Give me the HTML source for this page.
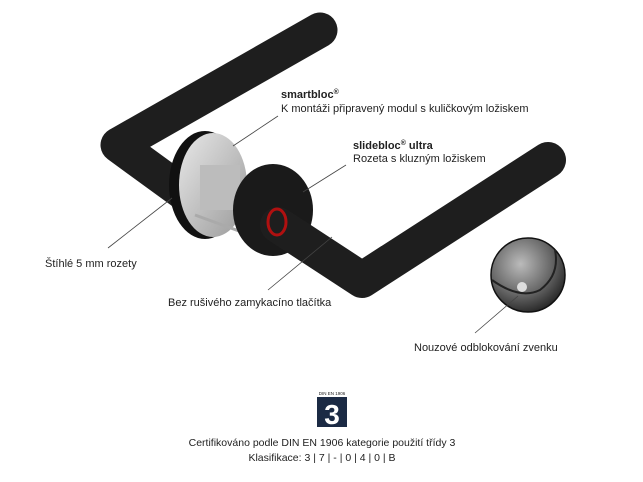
<!DOCTYPE html>
<html><head><meta charset="utf-8"><style>
html,body{margin:0;padding:0;background:#fff}
svg{display:block}
text{font-family:"Liberation Sans","DejaVu Sans",sans-serif;fill:#222}
</style></head><body>
<svg width="643" height="482" viewBox="0 0 643 482" xmlns="http://www.w3.org/2000/svg">
<defs>
<radialGradient id="ins" cx="0.4" cy="0.35" r="0.7"><stop offset="0" stop-color="#bbb"/><stop offset="0.6" stop-color="#666"/><stop offset="1" stop-color="#222"/></radialGradient>
<linearGradient id="sil" x1="0" y1="0" x2="1" y2="1"><stop offset="0" stop-color="#e8e8e8"/><stop offset="1" stop-color="#9a9a9a"/></linearGradient>
</defs>
<polyline points="320,30 118,145 188,196" fill="none" stroke="#1e1e1e" stroke-width="35" stroke-linecap="round" stroke-linejoin="round"/>
<ellipse cx="205" cy="185" rx="36" ry="54" fill="#111"/>
<ellipse cx="213" cy="185" rx="34" ry="52" fill="url(#sil)"/>
<rect x="200" y="165" width="40" height="45" fill="#bcbcbc"/>
<line x1="195" y1="215" x2="250" y2="235" stroke="#aaa" stroke-width="3"/>
<ellipse cx="273" cy="210" rx="40" ry="46" fill="#1a1a1a"/>
<polyline points="278,225 362,280 548,160" fill="none" stroke="#1e1e1e" stroke-width="36" stroke-linecap="round" stroke-linejoin="round"/>
<ellipse cx="277" cy="222" rx="9" ry="13" fill="none" stroke="#b01010" stroke-width="3"/>
<circle cx="528" cy="275" r="37" fill="url(#ins)" stroke="#111" stroke-width="1.5"/>
<path d="M492,280 Q520,300 540,290 Q560,275 555,250" fill="none" stroke="#222" stroke-width="2"/>
<circle cx="522" cy="287" r="5" fill="#ddd"/>
<g stroke="#444" stroke-width="0.8">
<line x1="278" y1="116" x2="233" y2="146"/>
<line x1="346" y1="165" x2="303" y2="192"/>
<line x1="108" y1="248" x2="172" y2="198"/>
<line x1="268" y1="290" x2="332" y2="237"/>
<line x1="475" y1="333" x2="518" y2="296"/>
</g>
<text x="281" y="98" font-size="11" font-weight="bold">smartbloc<tspan font-size="7" dy="-4">®</tspan></text>
<text x="281" y="112" font-size="11">K montáži připravený modul s kuličkovým ložiskem</text>
<text x="353" y="149" font-size="11" font-weight="bold">slidebloc<tspan font-size="7" dy="-4">®</tspan><tspan dy="4"> ultra</tspan></text>
<text x="353" y="162" font-size="11">Rozeta s kluzným ložiskem</text>
<text x="45" y="267" font-size="11">Štíhlé 5 mm rozety</text>
<text x="168" y="306" font-size="11">Bez rušivého zamykacíno tlačítka</text>
<text x="414" y="351" font-size="11">Nouzové odblokování zvenku</text>
<text x="332" y="395" font-size="4.5" text-anchor="middle">DIN EN 1906</text>
<rect x="317" y="397" width="30" height="30" fill="#1b2a44"/>
<text x="332" y="424" font-size="28" font-weight="bold" text-anchor="middle" style="fill:#fff">3</text>
<text x="322" y="446" font-size="10.5" text-anchor="middle">Certifikováno podle DIN EN 1906 kategorie použití třídy 3</text>
<text x="322" y="461" font-size="10.5" text-anchor="middle">Klasifikace: 3 | 7 | - | 0 | 4 | 0 | B</text>
</svg>
</body></html>
